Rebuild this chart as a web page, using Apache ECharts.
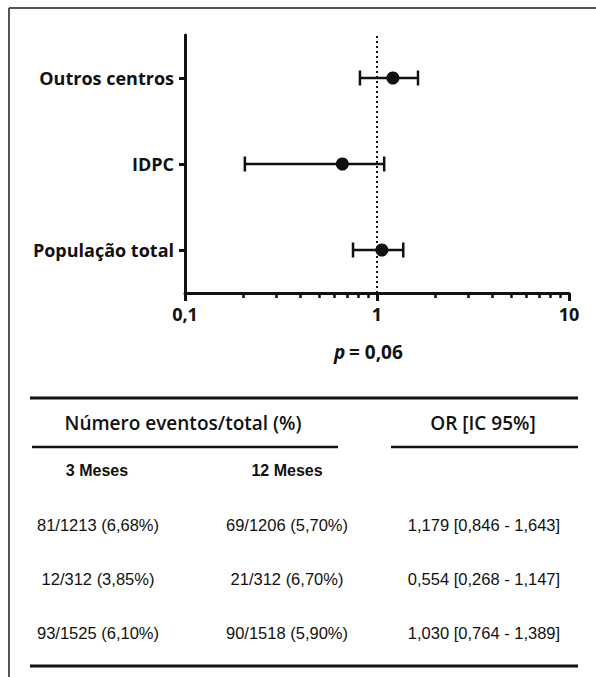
<!DOCTYPE html>
<html>
<head>
<meta charset="utf-8">
<title>Forest plot</title>
<script src="https://cdn.jsdelivr.net/npm/echarts@6/dist/echarts.min.js"></script>
<style>
  html, body { margin: 0; padding: 0; background: #fff; }
  #main { width: 596px; height: 677px; }
</style>
</head>
<body>
<div id="main"></div>
<script>
// dados
var groups = ['População total', 'IDPC', 'Outros centros'];
var orPoint = [1.06, 0.66, 1.21];
var ciLow = [0.75, 0.205, 0.815];
var ciHigh = [1.37, 1.09, 1.635];
var majorTicks = [0.1, 1, 10];
var minorTicks = [0.2, 0.3, 0.4, 0.5, 0.6, 0.7, 0.8, 0.9, 2, 3, 4, 5, 6, 7, 8, 9];
var refLine = 1;
var pText = '= 0,06';

// tabela
var tableTitles = ['Número eventos/total (%)', 'OR [IC 95%]'];
var colNames = ['3 Meses', '12 Meses'];
var col3m = ['81/1213 (6,68%)', '12/312 (3,85%)', '93/1525 (6,10%)'];
var col12m = ['69/1206 (5,70%)', '21/312 (6,70%)', '90/1518 (5,90%)'];
var colOR = ['1,179 [0,846 - 1,643]', '0,554 [0,268 - 1,147]', '1,030 [0,764 - 1,389]'];

var chart = echarts.init(document.getElementById('main'), null, { renderer: 'svg' });

var HFONT = '"Open Sans", Lato, sans-serif';
var TFONT = '"Liberation Sans", Arial, sans-serif';
var INK = '#111';

var scatterData = [], barData = [];
for (var i = 0; i < groups.length; i++) {
    scatterData.push([orPoint[i], i]);
    barData.push([ciLow[i], ciHigh[i], i]);
}

/* tabela + moldura */
var graphics = [
    { type: 'line', shape: { x1: 9, y1: 8, x2: 596, y2: 8 }, style: { stroke: '#555', lineWidth: 2 } },
    { type: 'line', shape: { x1: 9, y1: 8, x2: 9, y2: 677 }, style: { stroke: '#555', lineWidth: 2 } },
    { type: 'text', style: { x: 334, y: 352, text: 'p', font: 'italic bold 19px ' + HFONT, fill: INK, textVerticalAlign: 'middle' } },
    { type: 'text', style: { x: 349, y: 352, text: pText, font: 'bold 19px ' + HFONT, fill: INK, textVerticalAlign: 'middle' } },
    { type: 'line', shape: { x1: 30, y1: 398, x2: 578, y2: 398 }, style: { stroke: INK, lineWidth: 3 } },
    { type: 'line', shape: { x1: 32, y1: 447, x2: 338, y2: 447 }, style: { stroke: INK, lineWidth: 2.5 } },
    { type: 'line', shape: { x1: 391, y1: 447, x2: 578, y2: 447 }, style: { stroke: INK, lineWidth: 2.5 } },
    { type: 'line', shape: { x1: 30, y1: 666, x2: 578, y2: 666 }, style: { stroke: INK, lineWidth: 3 } },
    { type: 'text', style: { x: 183, y: 423, text: tableTitles[0], font: '600 19px ' + HFONT, fill: INK, textAlign: 'center', textVerticalAlign: 'middle' } },
    { type: 'text', style: { x: 483, y: 423, text: tableTitles[1], font: '600 19px ' + HFONT, fill: INK, textAlign: 'center', textVerticalAlign: 'middle' } },
    { type: 'text', style: { x: 97, y: 470, text: colNames[0], font: 'bold 16px ' + TFONT, fill: INK, textAlign: 'center', textVerticalAlign: 'middle' } },
    { type: 'text', style: { x: 287, y: 470, text: colNames[1], font: 'bold 16px ' + TFONT, fill: INK, textAlign: 'center', textVerticalAlign: 'middle' } }
];
var rowY = [525, 579, 633];
for (var r = 0; r < col3m.length; r++) {
    graphics.push({ type: 'text', style: { x: 98, y: rowY[r], text: col3m[r], font: '16.5px ' + TFONT, fill: INK, textAlign: 'center', textVerticalAlign: 'middle' } });
    graphics.push({ type: 'text', style: { x: 287, y: rowY[r], text: col12m[r], font: '16.5px ' + TFONT, fill: INK, textAlign: 'center', textVerticalAlign: 'middle' } });
    graphics.push({ type: 'text', style: { x: 484, y: rowY[r], text: colOR[r], font: '16.5px ' + TFONT, fill: INK, textAlign: 'center', textVerticalAlign: 'middle' } });
}

var option = {
    animation: false,
    backgroundColor: '#fff',
    grid: { left: 185, top: 35, width: 384, height: 258, containLabel: false },
    xAxis: [{
        type: 'log',
        logBase: 10,
        min: 0.1,
        max: 10,
        position: 'bottom',
        axisLine: { show: true, onZero: false, lineStyle: { color: INK, width: 3 } },
        axisTick: { show: true, customValues: majorTicks, length: 8, lineStyle: { color: INK, width: 3 } },
        axisLabel: {
            customValues: majorTicks,
            margin: 12,
            color: INK,
            fontFamily: HFONT,
            fontWeight: 'bold',
            fontSize: 18,
            formatter: function (v) { return String(v).replace('.', ','); }
        },
        splitLine: { show: false }
    }, {
        type: 'log',
        logBase: 10,
        min: 0.1,
        max: 10,
        position: 'bottom',
        offset: 0,
        axisLine: { show: false, onZero: false },
        axisTick: { show: true, customValues: minorTicks, length: 5, lineStyle: { color: INK, width: 2.5 } },
        axisLabel: { show: false },
        splitLine: { show: false }
    }],
    yAxis: {
        type: 'category',
        data: groups,
        axisLine: { show: true, lineStyle: { color: INK, width: 3 } },
        axisTick: { show: true, alignWithLabel: true, length: 6, lineStyle: { color: INK, width: 3 } },
        axisLabel: { margin: 11, color: INK, fontFamily: HFONT, fontWeight: 'bold', fontSize: 18 },
        splitLine: { show: false }
    },
    graphic: graphics,
    series: [{
        type: 'custom',
        name: 'IC 95%',
        encode: { x: [0, 1], y: 2 },
        data: barData,
        renderItem: function (params, api) {
            var y = api.value(2);
            var a = api.coord([api.value(0), y]);
            var b = api.coord([api.value(1), y]);
            var h = 7.5;
            var st = { stroke: INK, lineWidth: 2.5 };
            return {
                type: 'group',
                children: [
                    { type: 'line', shape: { x1: a[0], y1: a[1], x2: b[0], y2: b[1] }, style: st },
                    { type: 'line', shape: { x1: a[0], y1: a[1] - h, x2: a[0], y2: a[1] + h }, style: st },
                    { type: 'line', shape: { x1: b[0], y1: b[1] - h, x2: b[0], y2: b[1] + h }, style: st }
                ]
            };
        }
    }, {
        type: 'scatter',
        name: 'OR',
        data: scatterData,
        symbol: 'circle',
        symbolSize: 13,
        itemStyle: { color: INK, opacity: 1 },
        z: 5,
        markLine: {
            silent: true,
            symbol: 'none',
            label: { show: false },
            lineStyle: { color: INK, type: [2, 3], width: 2 },
            data: [{ xAxis: refLine }]
        }
    }]
};

chart.setOption(option);
</script>
</body>
</html>
